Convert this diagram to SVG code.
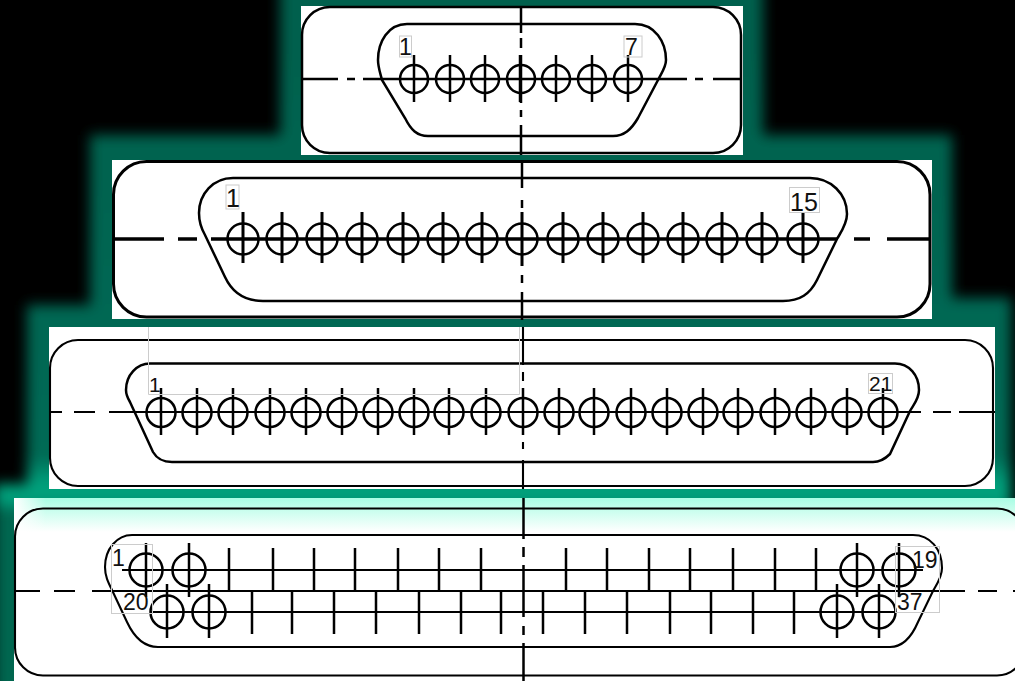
<svg xmlns="http://www.w3.org/2000/svg" width="1015" height="681" viewBox="0 0 1015 681">
<style>
.panel{fill:#fff}
.ln{fill:none;stroke:#000;stroke-width:2.5}
.thin{fill:none;stroke:#000;stroke-width:2.100}
.th{fill:none;stroke:#000;stroke-width:3}
.hv{fill:none;stroke:#000;stroke-width:3.500}
.box{fill:none;stroke:#ccc;stroke-width:1}
text{font-family:"Liberation Sans",Arial,sans-serif;fill:#111}
</style>
<defs>
<linearGradient id="glowFill" gradientUnits="userSpaceOnUse" x1="0" y1="0" x2="0" y2="681">
<stop offset="0" stop-color="#00604d"/>
<stop offset="0.67" stop-color="#006a55"/>
<stop offset="0.71" stop-color="#00a07c"/>
<stop offset="0.735" stop-color="#00a07c"/>
<stop offset="0.75" stop-color="#006650"/>
<stop offset="1" stop-color="#006650"/>
</linearGradient>
<linearGradient id="mint" gradientUnits="userSpaceOnUse" x1="0" y1="498" x2="0" y2="532">
<stop offset="0" stop-color="#a8fde4"/>
<stop offset="0.3" stop-color="#c4feec"/>
<stop offset="1" stop-color="#ffffff"/>
</linearGradient>
<linearGradient id="fadeLeft" gradientUnits="userSpaceOnUse" x1="14" y1="0" x2="46" y2="0">
<stop offset="0" stop-color="#fff"/>
<stop offset="1" stop-color="#fff" stop-opacity="0"/>
</linearGradient>
<filter id="soft" filterUnits="userSpaceOnUse" x="-60" y="-60" width="1135" height="800">
<feGaussianBlur stdDeviation="6.500"/>
</filter>
</defs>
<rect width="1015" height="681" fill="#000"/>
<path id="glow" filter="url(#soft)" fill="url(#glowFill)" d="M280-40H763V135H952V298H1011V720H-6V484H27V305H90V135H280Z"/>

<g id="panel-db9">
<rect class="panel" x="301" y="6" width="442" height="149"/>
<rect class="ln" x="302" y="7" width="439" height="146" rx="28"/>
<path class="ln" d="M407 24H635C655 24 666 42 666 60C666 67 662 72 658 80L638 118C631 130 624 136 613 136H428C417 136 411 130 405 118L382 80C380 72 378 67 378 60C378 42 388 24 407 24Z"/>
<path class="ln" d="M302 79H338M347 79H355M363 79H687M695 79H703M713 79H742M521 6V33M521 38V48M521 55V103M521 110V117M521 125V155"/>
<path class="ln" d="M414 55V102M450 55V102M485 55V102M520 55V102M556 55V102M592 55V102M628 55V102"/>
<g class="ln"><circle cx="414" cy="79" r="14"/><circle cx="450" cy="79" r="14"/><circle cx="485" cy="79" r="14"/><circle cx="521" cy="79" r="14"/><circle cx="556" cy="79" r="14"/><circle cx="592" cy="79" r="14"/><circle cx="628" cy="79" r="14"/></g>
<rect class="box" x="399.500" y="36" width="12" height="21"/>
<rect class="box" x="624" y="36" width="18" height="21"/>
<text x="399" y="55" font-size="23">1</text>
<text x="625" y="55" font-size="23">7</text>
</g>

<g id="panel-db25">
<rect class="panel" x="112" y="160" width="820" height="159"/>
<rect class="th" x="113.500" y="161.500" width="816.500" height="155.500" rx="33"/>
<path class="ln" d="M233 178H810C831 178 847 194 847 214C847 224 841 232 837 239L817 280C810 294 800 301 783 301H263C245 301 232 292 225 277L205 235C201 228 199 222 199 213C199 194 213 178 233 178Z"/>
<path class="hv" d="M113 239H164M178 239H197M211 239H837M854 239H870M887 239H931"/>
<path class="ln" d="M522 160V188M522 200V208M522 275V283M522 292V320"/>
<path class="th" d="M243 212V263M282 212V263M322 212V263M362 212V263M403 212V263M443 212V263M482 212V263M522 212V266M563 212V263M603 212V263M643 212V263M683 212V263M722 212V263M762 212V263M803 212V263"/>
<g class="ln"><circle cx="243" cy="239" r="15.500"/><circle cx="282" cy="239" r="15.500"/><circle cx="322" cy="239" r="15.500"/><circle cx="362" cy="239" r="15.500"/><circle cx="403" cy="239" r="15.500"/><circle cx="443" cy="239" r="15.500"/><circle cx="482" cy="239" r="15.500"/><circle cx="522" cy="239" r="15.500"/><circle cx="563" cy="239" r="15.500"/><circle cx="603" cy="239" r="15.500"/><circle cx="643" cy="239" r="15.500"/><circle cx="683" cy="239" r="15.500"/><circle cx="722" cy="239" r="15.500"/><circle cx="762" cy="239" r="15.500"/><circle cx="803" cy="239" r="15.500"/></g>
<rect class="box" x="226" y="185" width="13" height="24"/>
<rect class="box" x="789.500" y="187.500" width="30" height="25"/>
<text x="226" y="207" font-size="25">1</text>
<text x="790" y="211" font-size="25">15</text>
</g>

<g id="panel-db37-half">
<rect class="panel" x="49" y="327" width="946" height="162"/>
<rect class="thin" x="50" y="340" width="943" height="146" rx="28"/>
<path class="ln" d="M150 363.500H895C909 363.500 919 375 919 390C919 399 914 404 910 411L890 454C885 459 880 462 873 462H172C163 462 157 459 153 452L130 402C127 397 126 393 126 390C126 375 137 363.500 150 363.500Z"/>
<path class="thin" d="M50 412H62M74 412H95M109 412H921M933 412H951M959 412H995M523 327V365M523 372V381M523 442V449M523 460V489"/>
<path class="ln" d="M161 388V435M197 388V435M233 388V435M270 388V435M306 388V435M342 388V435M378 388V435M414 388V435M449 388V435M486 388V435M523 388V435M559 388V435M594 388V435M631 388V435M667 388V435M703 388V435M738 388V435M775 388V435M811 388V435M847 388V435M883 388V435"/>
<g class="ln"><circle cx="161" cy="412.500" r="14.500"/><circle cx="197" cy="412.500" r="14.500"/><circle cx="233" cy="412.500" r="14.500"/><circle cx="270" cy="412.500" r="14.500"/><circle cx="306" cy="412.500" r="14.500"/><circle cx="342" cy="412.500" r="14.500"/><circle cx="378" cy="412.500" r="14.500"/><circle cx="414" cy="412.500" r="14.500"/><circle cx="449" cy="412.500" r="14.500"/><circle cx="486" cy="412.500" r="14.500"/><circle cx="523" cy="412.500" r="14.500"/><circle cx="559" cy="412.500" r="14.500"/><circle cx="594" cy="412.500" r="14.500"/><circle cx="631" cy="412.500" r="14.500"/><circle cx="667" cy="412.500" r="14.500"/><circle cx="703" cy="412.500" r="14.500"/><circle cx="738" cy="412.500" r="14.500"/><circle cx="775" cy="412.500" r="14.500"/><circle cx="811" cy="412.500" r="14.500"/><circle cx="847" cy="412.500" r="14.500"/><circle cx="883" cy="412.500" r="14.500"/></g>
<path class="box" d="M148.500 327V394.500H519.500V327"/>
<rect class="box" x="868.500" y="373.500" width="24" height="20"/>
<text x="149" y="392" font-size="21">1</text>
<text x="869" y="391" font-size="21">21</text>
</g>

<g id="panel-db37">
<rect class="panel" x="14" y="498" width="1001" height="183"/>
<rect x="14" y="498" width="1001" height="34" fill="url(#mint)"/>
<rect x="14" y="498" width="32" height="34" fill="url(#fadeLeft)"/>
<rect class="thin" x="15" y="508.500" width="1010" height="167" rx="28"/>
<path class="thin" d="M132 535H913C930 535 942 549 942 568C942 577 937 584 933 591L918 622C912 636 904 647 890 647H158C143 647 134 637 127 622L112 590C108 582 105 576 105 567C105 549 117 535 132 535Z"/>
<path class="thin" d="M15 591H40M54 591H75M92 591H965M978 591H997M1013 591H1015M122 570H923M150 612H895"/>
<path class="ln" d="M523.500 498V539M523.500 547V557M523.500 565V617M523.500 626V635M523.500 643V681"/>
<path class="ln" d="M229 548V591M273 548V591M314 548V591M355 548V591M398 548V591M439 548V591M481 548V591M566 548V591M607 548V591M649 548V591M690 548V591M733 548V591M775 548V591M816 548V591"/>
<path class="ln" d="M252 591V634M292 591V634M334 591V634M376 591V634M419 591V634M461 591V634M501 591V634M543 591V634M585 591V634M627 591V634M670 591V634M711 591V634M753 591V634M794 591V634"/>
<path class="ln" d="M146 543V597M189 543V597M857 543V597M899 543V597M167 584V638M209 584V638M837 584V638M879 584V638"/>
<g class="ln"><circle cx="146" cy="570" r="16.500"/><circle cx="189" cy="570" r="16.500"/><circle cx="857" cy="570" r="16.500"/><circle cx="899" cy="570" r="16.500"/><circle cx="167" cy="612" r="16.500"/><circle cx="209" cy="612" r="16.500"/><circle cx="837" cy="612" r="16.500"/><circle cx="879" cy="612" r="16.500"/></g>
<rect class="box" x="111.500" y="544.500" width="41" height="69"/>
<rect class="box" x="895.500" y="546.500" width="44" height="66"/>
<text x="112" y="566" font-size="23">1</text>
<text x="123" y="610" font-size="23">20</text>
<text x="912" y="568" font-size="23">19</text>
<text x="897" y="610" font-size="23">37</text>
</g>
</svg>
